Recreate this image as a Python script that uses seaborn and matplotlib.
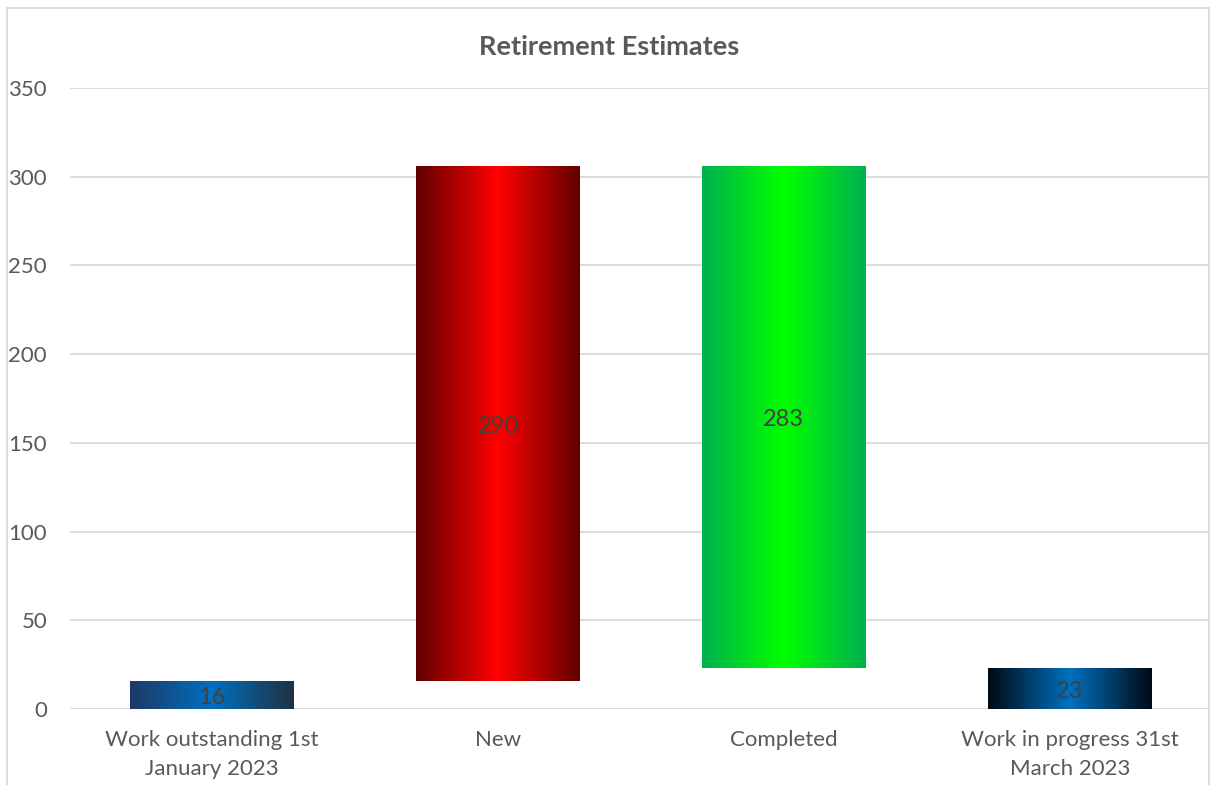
import numpy as np
import pandas as pd
import matplotlib
matplotlib.use("Agg")
import matplotlib.pyplot as plt
from matplotlib.colors import LinearSegmentedColormap
from matplotlib.patches import Rectangle
import seaborn as sns

categories = ["Work outstanding 1st\nJanuary 2023", "New", "Completed",
              "Work in progress 31st\nMarch 2023"]
values = [16, 290, 283, 23]
kinds = ["total", "increase", "decrease", "total"]
edge_colors = [("#1F3864", "#22303F"), ("#600000", "#600000"),
               ("#00B050", "#00B050"), ("#000A14", "#000A14")]
center_colors = ["#0070C0", "#FF0000", "#00FF00", "#0070C0"]
title = "Retirement Estimates"
yticks = [0, 50, 100, 150, 200, 250, 300, 350]

# waterfall bottoms/tops
bottoms, tops = [], []
running = 0
for v, k in zip(values, kinds):
    if k == "total":
        b, t = 0, v
        running = v
    elif k == "increase":
        b, t = running, running + v
        running = t
    else:
        b, t = running - v, running
        running = b
    bottoms.append(b)
    tops.append(t)

sns.set_theme(style="white")
plt.rcParams['font.family'] = ['Lato', 'DejaVu Sans']

fig = plt.figure(figsize=(12.1, 7.85), dpi=100)
ax = fig.add_axes([70 / 1210, 1 - 709 / 785, 1138 / 1210, (709 - 88) / 785])

df = pd.DataFrame({"cat": categories, "top": tops})
sns.barplot(data=df, x="cat", y="top", ax=ax, width=0.573,
            color="white", linewidth=0, saturation=1)

for i, p in enumerate(ax.patches):
    b, t = bottoms[i], tops[i]
    p.set_y(b)
    p.set_height(t - b)
    p.set_facecolor("none")
    p.set_edgecolor("none")
    x0 = p.get_x()
    w = p.get_width()
    cmap = LinearSegmentedColormap.from_list(
        f"g{i}", [edge_colors[i][0], center_colors[i], edge_colors[i][1]])
    grad = np.linspace(0, 1, 256).reshape(1, -1)
    im = ax.imshow(grad, cmap=cmap, aspect="auto",
                   extent=(x0, x0 + w, b, t), zorder=3, interpolation="bicubic")
    im.set_clip_path(p)
    ax.text(x0 + w / 2, (b + t) / 2 - 1.5, str(values[i]), ha="center", va="center",
            fontsize=17, color="#404040", zorder=4)

ax.set_xlim(-0.4965, 3.483)
ax.set_ylim(0, 350)
ax.set_yticks(yticks)
ax.set_yticklabels([str(v) for v in yticks])
ax.grid(axis="y", color="#D9D9D9", linewidth=1.3, zorder=0)
ax.set_axisbelow(True)
for s in ax.spines.values():
    s.set_visible(False)
ax.tick_params(axis="y", length=0, pad=16.5, labelsize=16, labelcolor="#595959")
ax.tick_params(axis="x", length=0, pad=15, labelsize=16, labelcolor="#595959")
for lbl in ax.get_xticklabels():
    lbl.set_linespacing(1.6)
ax.set_xlabel("")
ax.set_ylabel("")

fig.text(609 / 1210, 1 - 47 / 785, title, ha="center", va="center",
         fontsize=19.5, fontweight="bold", color="#595959")

fig.patches.append(Rectangle((7 / 1210, -0.1), 1202 / 1210, 1.1 - 8 / 785,
                             transform=fig.transFigure, fill=False,
                             edgecolor="#D9D9D9", linewidth=1.3))

fig.savefig("out.png", dpi=100)
